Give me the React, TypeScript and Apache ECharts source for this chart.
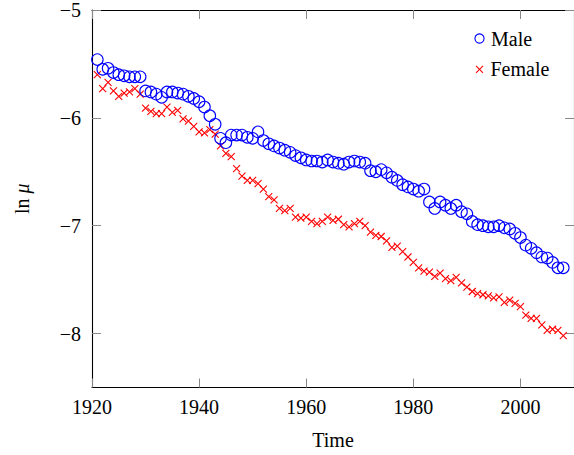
import React, { useEffect, useRef } from 'react';
import * as echarts from 'echarts';

const years = [
  1921, 1922, 1923, 1924, 1925, 1926, 1927, 1928, 1929, 1930,
  1931, 1932, 1933, 1934, 1935, 1936, 1937, 1938, 1939, 1940,
  1941, 1942, 1943, 1944, 1945, 1946, 1947, 1948, 1949, 1950,
  1951, 1952, 1953, 1954, 1955, 1956, 1957, 1958, 1959, 1960,
  1961, 1962, 1963, 1964, 1965, 1966, 1967, 1968, 1969, 1970,
  1971, 1972, 1973, 1974, 1975, 1976, 1977, 1978, 1979, 1980,
  1981, 1982, 1983, 1984, 1985, 1986, 1987, 1988, 1989, 1990,
  1991, 1992, 1993, 1994, 1995, 1996, 1997, 1998, 1999, 2000,
  2001, 2002, 2003, 2004, 2005, 2006, 2007, 2008,
];

const maleValues = [
  -5.46, -5.55, -5.54, -5.58, -5.60, -5.61, -5.62, -5.62, -5.62, -5.75,
  -5.76, -5.78, -5.81, -5.76, -5.76, -5.77, -5.78, -5.80, -5.82, -5.85,
  -5.90, -5.98, -6.06, -6.19, -6.23, -6.16, -6.16, -6.16, -6.18, -6.19,
  -6.13, -6.21, -6.24, -6.26, -6.28, -6.30, -6.32, -6.35, -6.37, -6.39,
  -6.40, -6.40, -6.41, -6.39, -6.41, -6.42, -6.43, -6.41, -6.40, -6.41,
  -6.42, -6.49, -6.50, -6.48, -6.51, -6.55, -6.58, -6.62, -6.64, -6.66,
  -6.68, -6.66, -6.78, -6.84, -6.78, -6.81, -6.84, -6.81, -6.87, -6.89,
  -6.96, -6.99, -7.00, -7.01, -7.01, -7.00, -7.02, -7.03, -7.07, -7.11,
  -7.18, -7.21, -7.25, -7.29, -7.30, -7.34, -7.39, -7.39,
];

const femaleValues = [
  -5.60, -5.73, -5.67, -5.75, -5.80, -5.77, -5.76, -5.73, -5.78, -5.91,
  -5.94, -5.96, -5.96, -5.90, -5.95, -5.93, -6.01, -6.03, -6.08, -6.13,
  -6.14, -6.11, -6.15, -6.26, -6.33, -6.36, -6.47, -6.54, -6.58, -6.58,
  -6.61, -6.66, -6.73, -6.76, -6.84, -6.86, -6.84, -6.92, -6.93, -6.92,
  -6.96, -6.98, -6.96, -6.92, -6.95, -6.94, -6.99, -7.01, -6.98, -6.96,
  -7.00, -7.06, -7.09, -7.10, -7.14, -7.20, -7.19, -7.24, -7.29, -7.34,
  -7.39, -7.42, -7.43, -7.47, -7.44, -7.49, -7.51, -7.48, -7.53, -7.57,
  -7.61, -7.63, -7.64, -7.65, -7.67, -7.66, -7.71, -7.69, -7.72, -7.75,
  -7.83, -7.86, -7.86, -7.92, -7.97, -7.96, -7.97, -8.02,
];

const xTicks = [1920, 1940, 1960, 1980, 2000];
const yTicks = [-8, -7, -6, -5];
const seriesNames = ['Male', 'Female'];
const xTitle = 'Time';

const FONT = "'Liberation Serif', 'Times New Roman', serif";
const BLUE = '#0000ff';
const RED = '#ff0000';

const fmtNum = (v: number) => (v < 0 ? '\u2212' + Math.abs(v) : String(v));

export default function App() {
  const ref = useRef<HTMLDivElement>(null);

  useEffect(() => {
    if (!ref.current) return;
    const chart = echarts.init(ref.current, null, { renderer: 'svg' });

    const axisLine = { show: true, lineStyle: { color: '#000', width: 1.1 } };
    const tickStyle = { color: '#888', width: 1 };

    const option: any = {
      animation: false,
      textStyle: { fontFamily: FONT },
      grid: { left: 92, top: 9.5, width: 491.3, height: 378, containLabel: false },
      xAxis: [
        {
          type: 'value',
          min: 1920,
          max: 2010,
          position: 'bottom',
          axisLine,
          axisTick: { show: true, inside: true, length: 9, lineStyle: tickStyle, customValues: xTicks },
          axisLabel: {
            customValues: xTicks,
            color: '#000',
            fontSize: 20,
            fontFamily: FONT,
            margin: 9,
            formatter: (v: number) => String(v),
          },
          splitLine: { show: false },
          name: xTitle,
          nameLocation: 'middle',
          nameGap: 42,
          nameTextStyle: { color: '#000', fontSize: 20, fontFamily: FONT },
        },
        {
          type: 'value',
          min: 1920,
          max: 2010,
          position: 'top',
          axisLine,
          axisTick: { show: true, inside: true, length: 9, lineStyle: tickStyle, customValues: xTicks },
          axisLabel: { show: false },
          splitLine: { show: false },
        },
      ],
      yAxis: [
        {
          type: 'value',
          min: -8.5,
          max: -5,
          position: 'left',
          axisLine,
          axisTick: { show: true, inside: true, length: 9, lineStyle: tickStyle, customValues: yTicks },
          axisLabel: {
            customValues: yTicks,
            color: '#000',
            fontSize: 20,
            fontFamily: FONT,
            margin: 11,
            formatter: (v: number) => fmtNum(v),
          },
          splitLine: { show: false },
          name: '{a|ln }{b|\u03bc}',
          nameLocation: 'middle',
          nameGap: 60,
          nameRotate: 90,
          nameTextStyle: {
            color: '#000',
            fontSize: 20,
            fontFamily: FONT,
            rich: {
              a: { fontSize: 20, fontFamily: FONT, color: '#000' },
              b: { fontSize: 20, fontFamily: FONT, color: '#000', fontStyle: 'italic' },
            },
          },
        },
        {
          type: 'value',
          min: -8.5,
          max: -5,
          position: 'right',
          axisLine,
          axisTick: { show: true, inside: true, length: 9, lineStyle: tickStyle, customValues: yTicks },
          axisLabel: { show: false },
          splitLine: { show: false },
        },
      ],
      series: [
        {
          name: seriesNames[0],
          type: 'scatter',
          xAxisIndex: 0,
          yAxisIndex: 0,
          symbol: 'circle',
          symbolSize: 11.5,
          itemStyle: { color: 'rgba(0,0,0,0)', borderColor: BLUE, borderWidth: 1.1, opacity: 1 },
          data: years.map((y, i) => [y, maleValues[i]]),
          z: 3,
        },
        {
          name: seriesNames[1],
          type: 'scatter',
          xAxisIndex: 0,
          yAxisIndex: 0,
          symbol: 'path://M0,0L10,10M10,0L0,10',
          symbolSize: 7,
          itemStyle: { color: RED, borderColor: RED, borderWidth: 1.1, opacity: 1 },
          data: years.map((y, i) => [y, femaleValues[i]]),
          z: 2,
        },
      ],
      graphic: [
        {
          type: 'circle',
          shape: { cx: 479.5, cy: 38.5, r: 4.6 },
          style: { fill: 'none', stroke: BLUE, lineWidth: 1.1 },
        },
        {
          type: 'line',
          shape: { x1: 476, y1: 65.8, x2: 483, y2: 72.8 },
          style: { stroke: RED, lineWidth: 1.1 },
        },
        {
          type: 'line',
          shape: { x1: 483, y1: 65.8, x2: 476, y2: 72.8 },
          style: { stroke: RED, lineWidth: 1.1 },
        },
        {
          type: 'text',
          x: 491,
          y: 38.5,
          style: {
            text: seriesNames[0],
            fill: '#000',
            fontSize: 20,
            fontFamily: FONT,
            verticalAlign: 'middle',
            align: 'left',
          },
        },
        {
          type: 'text',
          x: 490.5,
          y: 69,
          style: {
            text: seriesNames[1],
            fill: '#000',
            fontSize: 20,
            fontFamily: FONT,
            verticalAlign: 'middle',
            align: 'left',
          },
        },
      ],
    };

    chart.setOption(option);
    return () => chart.dispose();
  }, []);

  return (
    <div
      ref={ref}
      style={{ position: 'fixed', left: 0, top: 0, width: 574, height: 455, overflow: 'hidden', background: '#fff' }}
    />
  );
}
